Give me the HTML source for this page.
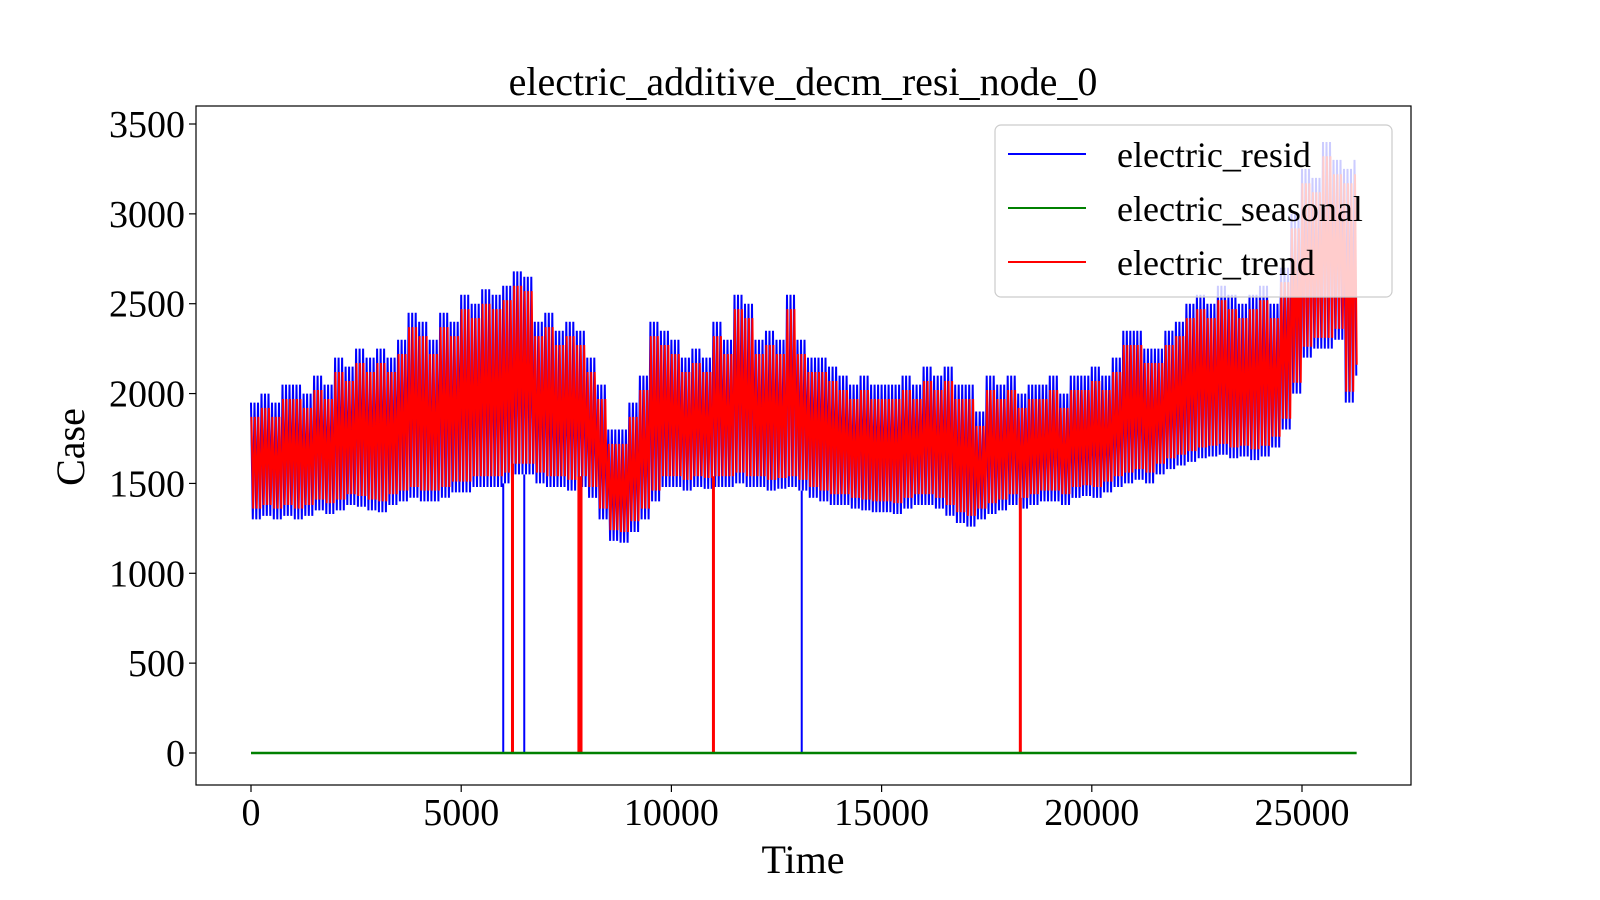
<!DOCTYPE html>
<html><head><meta charset="utf-8"><style>
html,body{margin:0;padding:0;background:#fff;}
svg{display:block;font-family:"Liberation Serif",serif;}
</style></head><body>
<svg id="chart" width="1600" height="900" viewBox="0 0 1600 900" xmlns="http://www.w3.org/2000/svg">
<rect x="0" y="0" width="1600" height="900" fill="#fff"/>
<text x="803" y="95" font-size="40" text-anchor="middle">electric_additive_decm_resi_node_0</text>
<g id="plot"></g>
<rect x="196" y="106" width="1215" height="679" fill="none" stroke="#000" stroke-width="1.2"/>
<g id="xt"></g>
<g id="yt"></g>
<text x="803" y="873" font-size="40" text-anchor="middle">Time</text>
<text x="0" y="0" font-size="40" text-anchor="middle" transform="translate(84,447) rotate(-90)">Case</text>
<g>
<rect x="995" y="125" width="397" height="172" rx="6" fill="rgba(255,255,255,0.8)" stroke="#ccc" stroke-width="1.2"/>
<g><line x1="1008" y1="154" x2="1086" y2="154" stroke="#0000ff" stroke-width="2"/><text x="1117" y="167" font-size="36">electric_resid</text></g>
<g><line x1="1008" y1="208" x2="1086" y2="208" stroke="#008000" stroke-width="2"/><text x="1117" y="221" font-size="36">electric_seasonal</text></g>
<g><line x1="1008" y1="262" x2="1086" y2="262" stroke="#ff0000" stroke-width="2"/><text x="1117" y="275" font-size="36">electric_trend</text></g>
</g>
</svg>
<script>
const step = 250;
const xTicks = [0,5000,10000,15000,20000,25000];
const yTicks = [0,500,1000,1500,2000,2500,3000,3500];
const tEnd = 26300;
const residHigh = [1950,2000,1950,2050,2050,2000,2100,2050,2200,2150,2250,2200,2250,2200,2300,2450,2400,2300,2450,2400,2550,2500,2580,2550,2600,2680,2650,2400,2450,2350,2400,2350,2200,2050,1800,1800,1950,2100,2400,2350,2300,2200,2250,2200,2400,2300,2550,2500,2300,2350,2300,2550,2300,2200,2200,2150,2100,2050,2100,2050,2050,2050,2100,2050,2150,2100,2150,2050,2050,1900,2100,2050,2100,2000,2050,2050,2100,2000,2100,2100,2150,2100,2200,2350,2350,2250,2250,2350,2400,2500,2550,2500,2600,2550,2500,2550,2600,2500,2700,3000,3250,3200,3400,3300,3250,3300];
const residLow = [1300,1320,1300,1320,1300,1320,1350,1330,1350,1380,1370,1350,1340,1380,1400,1420,1400,1400,1420,1450,1450,1480,1480,1480,1500,1550,1550,1500,1480,1480,1460,1480,1420,1300,1180,1170,1230,1300,1400,1480,1480,1460,1480,1470,1480,1480,1500,1480,1480,1460,1470,1480,1460,1420,1400,1380,1380,1360,1350,1340,1340,1330,1360,1380,1380,1360,1320,1280,1260,1300,1330,1350,1380,1360,1380,1400,1400,1380,1420,1430,1420,1450,1480,1500,1520,1500,1550,1580,1600,1620,1640,1650,1660,1640,1650,1630,1650,1700,1800,2000,2200,2250,2250,2300,1950,2100];
const trendHigh = [1870,1920,1870,1970,1970,1920,2020,1970,2120,2070,2170,2120,2170,2120,2220,2370,2320,2220,2370,2320,2470,2420,2500,2470,2520,2600,2570,2320,2370,2270,2320,2270,2120,1970,1720,1720,1870,2020,2320,2270,2220,2120,2170,2120,2320,2220,2470,2420,2220,2270,2220,2470,2220,2120,2120,2070,2020,1970,2020,1970,1970,1970,2020,1970,2070,2020,2070,1970,1970,1820,2020,1970,2020,1920,1970,1970,2020,1920,2020,2020,2070,2020,2120,2270,2270,2170,2170,2270,2320,2420,2470,2420,2520,2470,2420,2470,2520,2420,2620,2920,3170,3120,3320,3220,3170,3220];
const trendLow = [1360,1380,1360,1380,1360,1380,1410,1390,1410,1440,1430,1410,1400,1440,1460,1480,1460,1460,1480,1510,1510,1540,1540,1540,1560,1610,1610,1560,1540,1540,1520,1540,1480,1360,1240,1230,1290,1360,1460,1540,1540,1520,1540,1530,1540,1540,1560,1540,1540,1520,1530,1540,1520,1480,1460,1440,1440,1420,1410,1400,1400,1390,1420,1440,1440,1420,1380,1340,1320,1360,1390,1410,1440,1420,1440,1460,1460,1440,1480,1490,1480,1510,1540,1560,1580,1560,1610,1640,1660,1680,1700,1710,1720,1700,1710,1690,1710,1760,1860,2060,2260,2310,2310,2360,2010,2160];
const residDrops = [6000,6500,7800,11000,13100,18300];
const trendDrops = [6220,7800,7850,11000,18300];
const seasonalValue = 0;

const NS = "http://www.w3.org/2000/svg";
const X = t => 251 + t * (1302 - 251) / 25000;
const Y = v => 753 - v * (753 - 124) / 3500;
const plot = document.getElementById('plot');
const SUB = 3;

function zig(high, low, phase) {
  let pts = [];
  const n = Math.min(high.length, low.length);
  const sub = step / SUB;
  for (let i = 0; i < n; i++) {
    for (let k = 0; k < SUB; k++) {
      const t = i * step + k * sub + phase;
      if (t > tEnd) break;
      pts.push([t, high[i]]);
      pts.push([Math.min(t + sub / 2, tEnd), low[i]]);
    }
  }
  return pts.map(p => X(p[0]).toFixed(1) + ',' + Y(p[1]).toFixed(1)).join(' ');
}
function drawSeries(high, low, drops, color, name, sw, dw, phase) {
  const pl = document.createElementNS(NS, 'polyline');
  
  
  pl.setAttribute('points', zig(high, low, phase));
  pl.setAttribute('fill', 'none');
  pl.setAttribute('stroke', color);
  pl.setAttribute('stroke-width', sw);
  plot.appendChild(pl);
  drops.forEach(t => {
    const i = Math.min(Math.round(t / step), low.length - 1);
    const l = document.createElementNS(NS, 'line');
    
    
    l.setAttribute('x1', X(t)); l.setAttribute('x2', X(t));
    l.setAttribute('y1', Y(low[i])); l.setAttribute('y2', Y(0));
    l.setAttribute('stroke', color); l.setAttribute('stroke-width', dw);
    plot.appendChild(l);
  });
}
drawSeries(residHigh, residLow, residDrops, '#0000ff', 'resid', 2, 2, 0);
drawSeries(trendHigh, trendLow, trendDrops, '#ff0000', 'trend', 2, 3, 10);
const g = document.createElementNS(NS, 'line');


g.setAttribute('x1', X(0)); g.setAttribute('x2', X(tEnd));
g.setAttribute('y1', Y(seasonalValue)); g.setAttribute('y2', Y(seasonalValue));
g.setAttribute('stroke', '#008000'); g.setAttribute('stroke-width', 2.5);
plot.appendChild(g);

const xt = document.getElementById('xt');
xTicks.forEach(v => {
  const l = document.createElementNS(NS, 'line');
  
  
  l.setAttribute('x1', X(v)); l.setAttribute('x2', X(v));
  l.setAttribute('y1', 785); l.setAttribute('y2', 792);
  l.setAttribute('stroke', '#000'); l.setAttribute('stroke-width', 1.2);
  xt.appendChild(l);
  const tx = document.createElementNS(NS, 'text');
  
  
  tx.setAttribute('x', X(v)); tx.setAttribute('y', 825);
  tx.setAttribute('font-size', 38); tx.setAttribute('text-anchor', 'middle');
  tx.textContent = v;
  xt.appendChild(tx);
});
const yt = document.getElementById('yt');
yTicks.forEach(v => {
  const l = document.createElementNS(NS, 'line');
  
  
  l.setAttribute('x1', 189); l.setAttribute('x2', 196);
  l.setAttribute('y1', Y(v)); l.setAttribute('y2', Y(v));
  l.setAttribute('stroke', '#000'); l.setAttribute('stroke-width', 1.2);
  yt.appendChild(l);
  const tx = document.createElementNS(NS, 'text');
  
  
  tx.setAttribute('x', 185); tx.setAttribute('y', Y(v) + 13);
  tx.setAttribute('font-size', 38); tx.setAttribute('text-anchor', 'end');
  tx.textContent = v;
  yt.appendChild(tx);
});
</script>
</body></html>
